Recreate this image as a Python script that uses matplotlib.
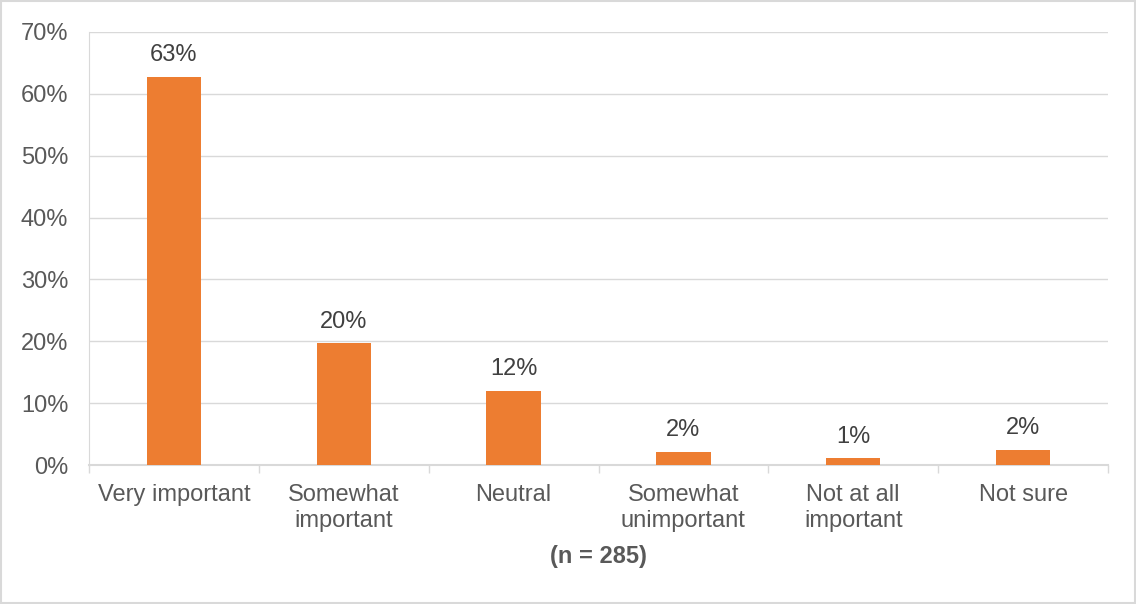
import matplotlib.pyplot as plt
import numpy as np

categories = ["Very important", "Somewhat\nimportant", "Neutral",
              "Somewhat\nunimportant", "Not at all\nimportant", "Not sure"]
values = [62.8, 19.7, 12.0, 2.1, 1.1, 2.5]
labels = ["63%", "20%", "12%", "2%", "1%", "2%"]
yticks = [0, 10, 20, 30, 40, 50, 60, 70]

plt.rcParams['font.family'] = ['Liberation Sans', 'DejaVu Sans']
txt = '#595959'
grid = '#D9D9D9'
fs = 17

fig = plt.figure(figsize=(11.36, 6.04), dpi=100)
ax = fig.add_axes([89/1136, 1 - 465/604, (1108-89)/1136, (465-32)/604])

x = np.arange(len(categories))
ax.bar(x, values, width=0.32, color='#ED7D31', zorder=3)
for xi, v, lab in zip(x, values, labels):
    ax.text(xi, v + 1.7, lab, ha='center', va='bottom', fontsize=fs, color='#404040')

ax.set_xlim(-0.5, len(categories) - 0.5)
ax.set_ylim(0, 70)
ax.set_yticks(yticks)
ax.set_yticklabels([f"{t}%" for t in yticks], fontsize=fs, color=txt)
ax.yaxis.grid(True, color=grid, linewidth=1, zorder=0)
ax.tick_params(axis='y', length=0, pad=15)

ax.set_xticks(x)
ax.set_xticklabels(categories, fontsize=fs, color=txt, linespacing=1.2)
ax.set_xticks(np.arange(-0.5, len(categories)), minor=True)
ax.tick_params(axis='x', which='major', length=0, pad=14)
ax.tick_params(axis='x', which='minor', length=6, color=grid, width=1)

for s in ['top', 'right']:
    ax.spines[s].set_visible(False)
ax.spines['left'].set_color(grid)
ax.spines['bottom'].set_color(grid)
ax.spines['bottom'].set_linewidth(1.5)

fig.text(598/1136, 1 - 556/604, "(n = 285)", ha='center', va='center',
         fontsize=fs, fontweight='bold', color=txt)

fig.patches.append(plt.Rectangle((0.001, 0.001), 0.998, 0.997, transform=fig.transFigure,
                                 fill=False, edgecolor=grid, linewidth=1.5))

fig.savefig('out.png', dpi=100)
